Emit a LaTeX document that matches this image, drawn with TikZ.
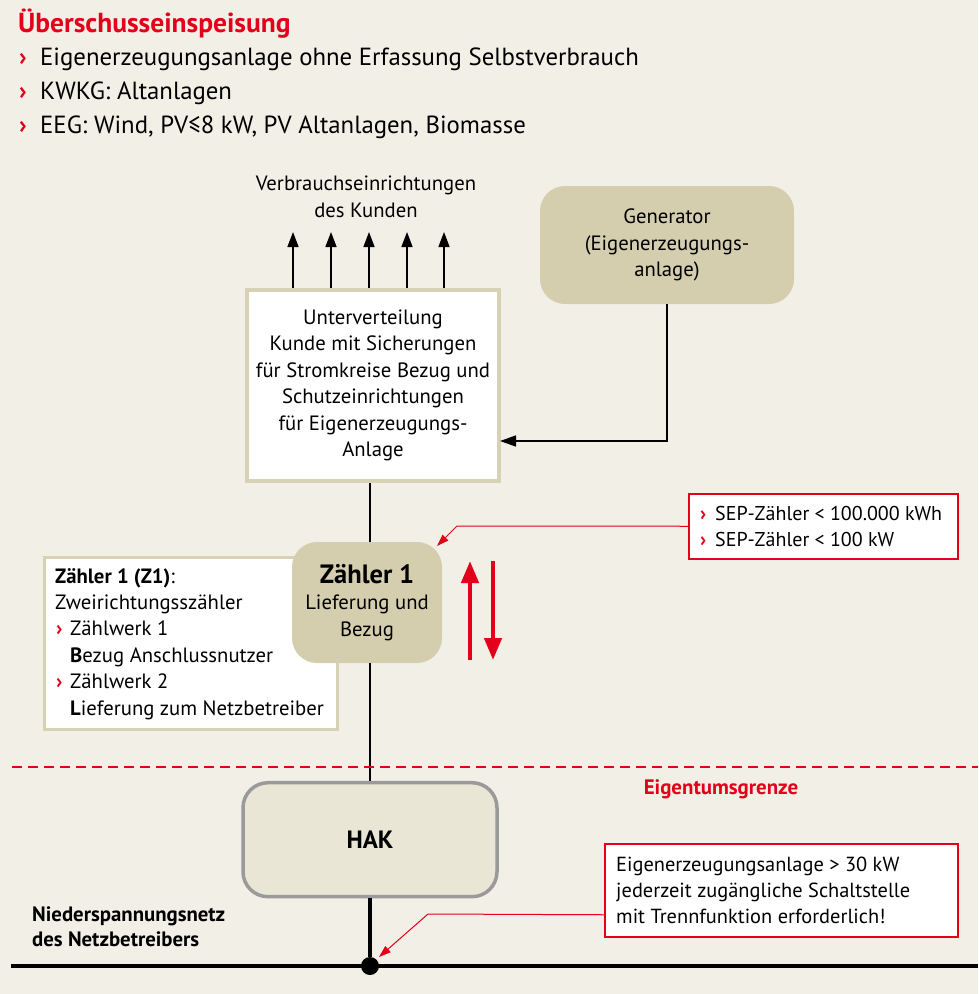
\documentclass[tikz,border=0pt]{standalone}
\usepackage{fontspec}
\setmainfont{PT Sans}
\usetikzlibrary{arrows.meta}
\definecolor{bg}{HTML}{F2F0E6}
\definecolor{dbred}{HTML}{E2001A}
\definecolor{tanfill}{HTML}{D4CEAF}
\definecolor{tanline}{HTML}{D8D2B4}
\definecolor{hakfill}{HTML}{E9E6D6}
\definecolor{hakline}{HTML}{9A9A9A}
\newcommand{\chev}{{\color{dbred}\bfseries ›}}
\begin{document}
\begin{tikzpicture}[x=1pt,y=-1pt,
  bodytext/.style={font=\fontsize{20.7}{26.6}\selectfont, text=black, inner sep=0},
  smalltext/.style={font=\fontsize{20.4}{26}\selectfont, text=black, inner sep=0},
  listtext/.style={font=\fontsize{24.8}{34}\selectfont, text=black, inner sep=0, anchor=base west},
  tanbox/.style={fill=tanfill, draw=none, rounded corners=25pt, inner sep=0, align=center},
  notebox/.style={draw=dbred, line width=1.5pt, fill=white, inner sep=0},
  blackarrow/.style={line width=1.6pt, -{Triangle[width=11pt,length=15pt]}},
  redarrow/.style={dbred, line width=4.5pt, -{Triangle[width=17pt,length=22pt]}},
  pointer/.style={dbred, line width=1pt, -{Triangle[width=8pt,length=12pt]}}
]
\fill[bg] (0,0) rectangle (978,994);
\useasboundingbox (0,0) rectangle (978,994);

% title and list
\node[anchor=base west, inner sep=0, font=\fontsize{27.5}{30}\selectfont\bfseries, text=dbred] (title) at (18,32) {Überschusseinspeisung};
\node[listtext] (b1c) at (19,65) {\chev};
\node[listtext] (b1) at (40,65) {Eigenerzeugungsanlage ohne Erfassung Selbstverbrauch};
\node[listtext] (b2c) at (19,99) {\chev};
\node[listtext] (b2) at (40,99) {KWKG: Altanlagen};
\node[listtext] (b3c) at (19,133) {\chev};
\node[listtext] (b3) at (40,133) {EEG: Wind, PV≤8 kW, PV Altanlagen, Biomasse};

% consumers
\node[bodytext, align=center] (verb) at (366,197) {Verbrauchseinrichtungen\\des Kunden};

% Unterverteilung
\node[draw=tanline, line width=4pt, fill=white, minimum width=252pt, minimum height=191pt, inner sep=0, align=center, font=\fontsize{20.7}{26.5}\selectfont] (uv) at (373,385.5)
 {Unterverteilung\\Kunde mit Sicherungen\\für Stromkreise Bezug und\\Schutzeinrichtungen\\für Eigenerzeugungs-\\Anlage};

\foreach \i/\xx in {1/293,2/331,3/369,4/407,5/444}{
  \coordinate (c\i) at (\xx,232);
  \draw[blackarrow] (c\i |- uv.north) -- (c\i);
}

% Generator
\node[tanbox, minimum width=254pt, minimum height=118pt, font=\fontsize{20.7}{26.6}\selectfont] (gen) at (667,245)
 {Generator\\(Eigenerzeugungs-\\anlage)};
\coordinate (genin) at (500,441);
\draw[line width=1.6pt, -{Triangle[width=11pt,length=16pt]}] (gen.south) |- (genin);

% axis
\coordinate (axis) at (370,0);

% info box
\node[draw=tanline, fill=white, line width=2.5pt, minimum width=293pt, minimum height=172pt, anchor=north west, inner sep=0] (info) at (43,556) {};
\node[bodytext, anchor=base west] (i1) at (55,583.5) {\textbf{Zähler 1 (Z1)}:};
\node[bodytext, anchor=base west] (i2) at (55,609.5) {Zweirichtungsszähler};
\node[bodytext, anchor=base west] (i3c) at (56,635.5) {\chev};
\node[bodytext, anchor=base west] (i3) at (70,635.5) {Zählwerk 1};
\node[bodytext, anchor=base west] (i4) at (70,662) {\textbf{B}ezug Anschlussnutzer};
\node[bodytext, anchor=base west] (i5c) at (56,688.5) {\chev};
\node[bodytext, anchor=base west] (i5) at (70,688.5) {Zählwerk 2};
\node[bodytext, anchor=base west] (i6) at (70,715) {\textbf{L}ieferung zum Netzbetreiber};

% lines along axis
\draw[line width=1.6pt] (uv.south -| axis) -- (370,542);

% Zaehler 1
\node[tanbox, minimum width=150pt, minimum height=121pt, font=\fontsize{20.7}{26.7}\selectfont] (z1) at (367,602.5)
 {{\fontsize{26.5}{26.7}\selectfont\bfseries Zähler 1}\\Lieferung und\\Bezug};

\draw[line width=1.6pt] (z1.south -| axis) -- (370,782);

% red flow arrows
\coordinate (upA) at (470,660);
\coordinate (upB) at (470,561);
\coordinate (dnA) at (493,561);
\coordinate (dnB) at (493,660);
\draw[redarrow] (upA) -- (upB);
\draw[redarrow] (dnA) -- (dnB);

% SEP note
\node[notebox, minimum width=269pt, minimum height=65pt, anchor=north west] (sep) at (688,493) {};
\node[font=\fontsize{20}{26}\selectfont, inner sep=0, anchor=base west] (s1c) at (700,520) {\chev};
\node[font=\fontsize{20}{26}\selectfont, inner sep=0, anchor=base west] (s1) at (715,520) {SEP-Zähler < 100.000 kWh};
\node[font=\fontsize{20}{26}\selectfont, inner sep=0, anchor=base west] (s2c) at (700,546) {\chev};
\node[font=\fontsize{20}{26}\selectfont, inner sep=0, anchor=base west] (s2) at (715,546) {SEP-Zähler < 100 kW};
\coordinate (sepbend) at (457,526);
\coordinate (septip) at (437,546);
\draw[pointer] (sep.west) -- (sepbend) -- (septip);

% property border
\coordinate (dl) at (12,767);
\coordinate (dr) at (978,767);
\draw[dbred, line width=2.5pt, dash pattern=on 10pt off 6pt] (dl) -- (dr);
\node[anchor=base, inner sep=0, font=\fontsize{20.9}{24}\selectfont\bfseries, text=dbred] (eg) at (721,794) {Eigentumsgrenze};

% HAK
\node[draw=hakline, fill=hakfill, line width=3.5pt, rounded corners=25pt, minimum width=254pt, minimum height=114pt, inner sep=0, font=\fontsize{25}{26}\selectfont\bfseries] (hak) at (370,839.7) {HAK};

% network
\node[circle, fill=black, minimum size=18pt, inner sep=0] (dot) at (370,966) {};
\coordinate (nl) at (11,966);
\coordinate (nr) at (978,966);
\draw[line width=4pt] (nl) -- (nr);
\draw[line width=4pt] (hak.south) -- (dot);
\node[inner sep=0, anchor=base west, font=\fontsize{20.8}{25}\selectfont\bfseries] (n1) at (32,921.7) {Niederspannungsnetz};
\node[inner sep=0, anchor=base west, font=\fontsize{20.8}{25}\selectfont\bfseries] (n2) at (32,946.7) {des Netzbetreibers};

% bottom note
\node[notebox, minimum width=353pt, minimum height=93pt, anchor=north west] (note) at (604,843) {};
\node[smalltext, anchor=base west] (t1) at (616,871.7) {Eigenerzeugungsanlage > 30 kW};
\node[smalltext, anchor=base west] (t2) at (616,897.7) {jederzeit zugängliche Schaltstelle};
\node[smalltext, anchor=base west] (t3) at (616,923.3) {mit Trennfunktion erforderlich!};
\coordinate (notebend) at (428,914);
\coordinate (dottip) at (379,957);
\draw[pointer] ([yshift=-24.5pt]note.west) -- (notebend) -- (dottip);
\end{tikzpicture}
\end{document}
